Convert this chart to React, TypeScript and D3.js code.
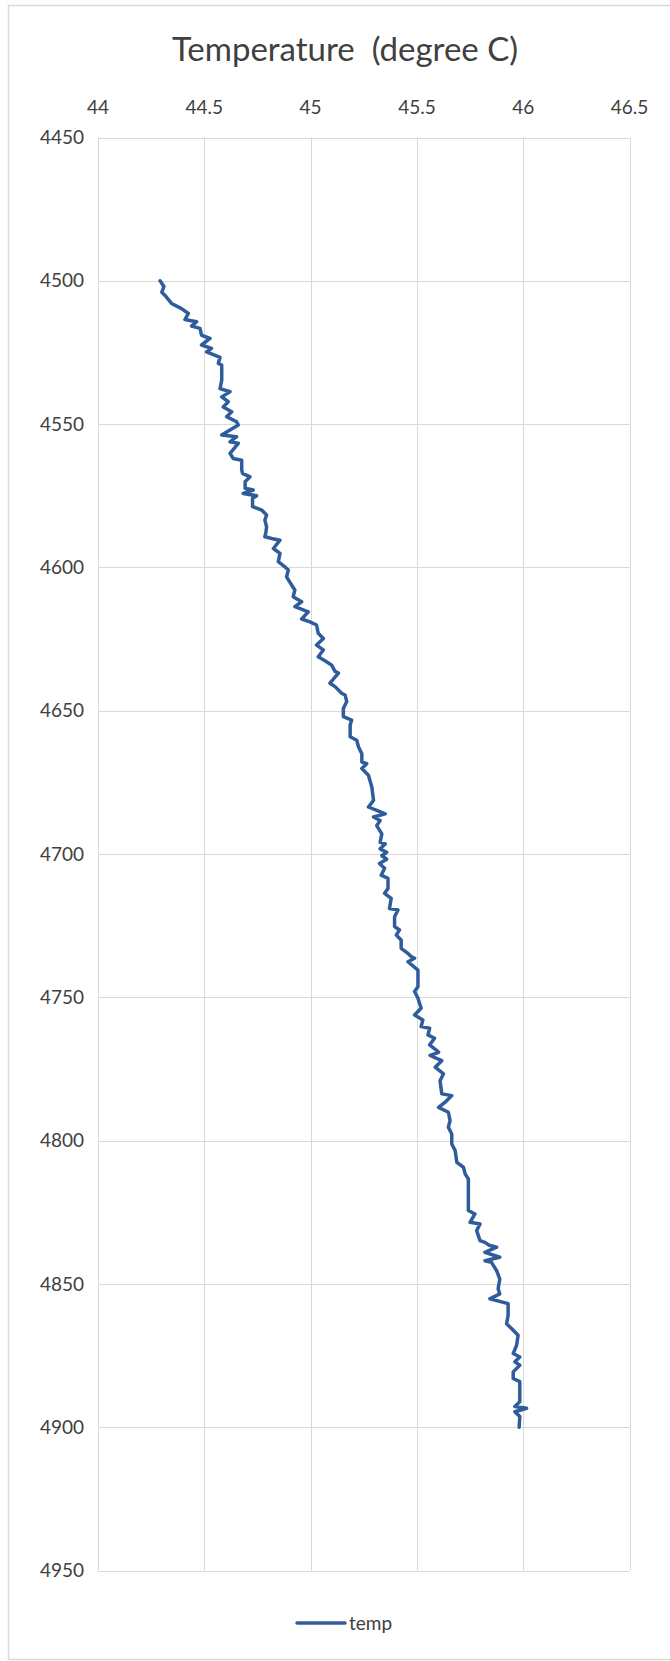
import React from "react";
import * as d3 from "d3";

const width = 670;
const height = 1661;

// depth (ft) and temperature (degree C)
const depth = [
  4500, 4502, 4504, 4505.5, 4507.9, 4509.7, 4511.4, 4513.5, 4514.3, 4515.8, 4516.6, 4519, 4520.1, 4522.4, 4523.6,
  4524.8, 4526.7, 4528.8, 4529.4, 4534.7, 4537.6, 4538.7, 4540.5, 4542.2, 4544, 4545.7, 4547.4, 4549.2, 4550.3,
  4553.8, 4554.4, 4556.2, 4556.7, 4560.2, 4562, 4562.6, 4566, 4567.2, 4568.4, 4570.1, 4572.4, 4573, 4574.2, 4575,
  4575.9, 4578.8, 4580, 4581.7, 4583.5, 4585.8, 4587.6, 4589.3, 4589.9, 4590.5, 4593.4, 4595.1, 4598, 4599.8,
  4600.9, 4603.3, 4606.2, 4607.9, 4610.2, 4612, 4613.7, 4615.5, 4618, 4619, 4620.1, 4623, 4624.8, 4627.1, 4628.8,
  4631.2, 4632.9, 4634.1, 4636.3, 4636.9, 4640.4, 4641.6, 4643.9, 4644.5, 4646.8, 4649.2, 4652.1, 4653.3, 4655,
  4659.1, 4660.3, 4662.6, 4665, 4667.9, 4668.5, 4670.2, 4672.5, 4676.6, 4681.3, 4683.6, 4684.8, 4686, 4687.1,
  4688.3, 4690.1, 4693, 4695.9, 4696.5, 4698.2, 4699.4, 4700.6, 4701.8, 4703.3, 4705, 4707.4, 4708.5, 4712,
  4713.7, 4715.5, 4719, 4719.5, 4721.9, 4725.3, 4726.5, 4728.3, 4730, 4732.9, 4734.7, 4735.8, 4736.4, 4737.6,
  4740.5, 4746.3, 4748, 4750.3, 4753.8, 4756.2, 4757.9, 4760.2, 4760.8, 4763.1, 4764.3, 4766.6, 4768.4, 4769.2,
  4770.3, 4772.1, 4774.4, 4776.7, 4779.1, 4783.7, 4784.3, 4786.6, 4788.4, 4790.1, 4793, 4795.3, 4797.7, 4801.2,
  4803.5, 4807.6, 4809.3, 4811.6, 4813.4, 4816.3, 4824.4, 4825.6, 4828.5, 4829.1, 4831.4, 4834.9, 4835.5, 4836.5,
  4837.2, 4839, 4840.7, 4841.9, 4842.5, 4845.4, 4848.3, 4851.7, 4853.5, 4855.2, 4856.9, 4861, 4863.9, 4865.6,
  4867.9, 4871.4, 4874.3, 4875.5, 4877.2, 4878.4, 4880.7, 4883, 4884.1, 4891.1, 4892.8, 4893.4, 4894.6, 4896.3,
  4900,
];
const temp = [
  44.292, 44.31, 44.3, 44.32, 44.346, 44.393, 44.425, 44.409, 44.464, 44.44, 44.48, 44.487, 44.527, 44.487, 44.534,
  44.511, 44.574, 44.566, 44.582, 44.582, 44.574, 44.621, 44.582, 44.613, 44.589, 44.629, 44.605, 44.652, 44.66,
  44.582, 44.652, 44.621, 44.66, 44.621, 44.636, 44.676, 44.676, 44.68, 44.715, 44.692, 44.692, 44.73, 44.683, 44.746,
  44.727, 44.727, 44.77, 44.793, 44.785, 44.793, 44.79, 44.785, 44.817, 44.856, 44.825, 44.856, 44.848, 44.879,
  44.895, 44.887, 44.911, 44.926, 44.918, 44.958, 44.926, 44.989, 44.958, 44.997, 45.028, 45.036, 45.06, 45.028, 45.06,
  45.036, 45.075, 45.099, 45.115, 45.131, 45.091, 45.115, 45.146, 45.162, 45.17, 45.154, 45.154, 45.193, 45.186,
  45.186, 45.217, 45.225, 45.241, 45.241, 45.264, 45.241, 45.272, 45.288, 45.296, 45.272, 45.311, 45.351, 45.296,
  45.327, 45.311, 45.335, 45.327, 45.351, 45.327, 45.358, 45.335, 45.358, 45.324, 45.348, 45.332, 45.364, 45.364,
  45.348, 45.379, 45.371, 45.411, 45.395, 45.395, 45.418, 45.403, 45.426, 45.426, 45.458, 45.473, 45.489, 45.458,
  45.505, 45.505, 45.489, 45.505, 45.52, 45.489, 45.528, 45.52, 45.56, 45.552, 45.583, 45.56, 45.591, 45.602,
  45.562, 45.617, 45.586, 45.625, 45.609, 45.617, 45.664, 45.633, 45.602, 45.648, 45.656, 45.648, 45.664, 45.664,
  45.68, 45.688, 45.719, 45.727, 45.742, 45.742, 45.742, 45.773, 45.75, 45.797, 45.781, 45.797, 45.82, 45.84,
  45.875, 45.82, 45.89, 45.82, 45.851, 45.875, 45.89, 45.882, 45.89, 45.843, 45.929, 45.929, 45.922, 45.945,
  45.976, 45.969, 45.953, 45.984, 45.961, 45.984, 45.953, 45.953, 45.984, 45.984, 45.961, 46.016, 45.961, 45.984,
  45.981,
];

const xTicks = [44, 44.5, 45, 45.5, 46, 46.5];
const yTicks = [4450, 4500, 4550, 4600, 4650, 4700, 4750, 4800, 4850, 4900, 4950];

const title = "Temperature  (degree C)";
const seriesName = "temp";

const font = "Lato, 'Open Sans', sans-serif";
const lineColor = "#2f5d9c";
const gridColor = "#d9d9d9";
const textColor = "#404040";

export default function App() {
  const margin = { top: 137.5, right: 40.5, bottom: 90.5, left: 98 };

  const xScale = d3
    .scaleLinear()
    .domain([44, 46.5])
    .range([margin.left, width - margin.right]);

  const yScale = d3
    .scaleLinear()
    .domain([4450, 4950])
    .range([margin.top, height - margin.bottom]);

  const points = depth.map((d, i) => [temp[i], d]);
  const line = d3
    .line()
    .x((p) => xScale(p[0]))
    .y((p) => yScale(p[1]));

  const legendY = 1623;

  return (
    <svg
      width={width}
      height={height}
      style={{ position: "absolute", left: 0, top: 0, background: "#fff" }}
    >
      <rect x={8.5} y={5.5} width={667} height={1654} fill="#fff" stroke={gridColor} strokeWidth={1.5} />

      <text
        x={345}
        y={61}
        textAnchor="middle"
        fontFamily={font}
        fontSize={33}
        fill={textColor}
        style={{ whiteSpace: "pre" }}
      >
        {title}
      </text>

      {/* gridlines */}
      {xTicks.map((t) => (
        <line
          key={"gx" + t}
          x1={Math.round(xScale(t)) + 0.5}
          x2={Math.round(xScale(t)) + 0.5}
          y1={yScale(4450)}
          y2={yScale(4950)}
          stroke={gridColor}
          strokeWidth={1}
        />
      ))}
      {yTicks.map((t) => (
        <line
          key={"gy" + t}
          x1={xScale(44)}
          x2={xScale(46.5)}
          y1={Math.round(yScale(t)) + 0.5}
          y2={Math.round(yScale(t)) + 0.5}
          stroke={gridColor}
          strokeWidth={1}
        />
      ))}

      {/* x tick labels on top */}
      {xTicks.map((t) => (
        <text
          key={"lx" + t}
          x={xScale(t)}
          y={114}
          textAnchor="middle"
          fontFamily={font}
          fontSize={19}
          fill={textColor}
        >
          {t}
        </text>
      ))}

      {/* y tick labels */}
      {yTicks.map((t) => (
        <text
          key={"ly" + t}
          x={84}
          y={yScale(t)}
          dy="0.35em"
          textAnchor="end"
          fontFamily={font}
          fontSize={19}
          fill={textColor}
        >
          {t}
        </text>
      ))}

      <path
        d={line(points) || ""}
        fill="none"
        stroke={lineColor}
        strokeWidth={3.5}
        strokeLinejoin="round"
        strokeLinecap="round"
      />

      {/* legend */}
      <line x1={297} x2={345} y1={legendY} y2={legendY} stroke={lineColor} strokeWidth={3.5} strokeLinecap="round" />
      <text x={349} y={legendY} dy="0.35em" fontFamily={font} fontSize={19} fill={textColor}>
        {seriesName}
      </text>
    </svg>
  );
}
